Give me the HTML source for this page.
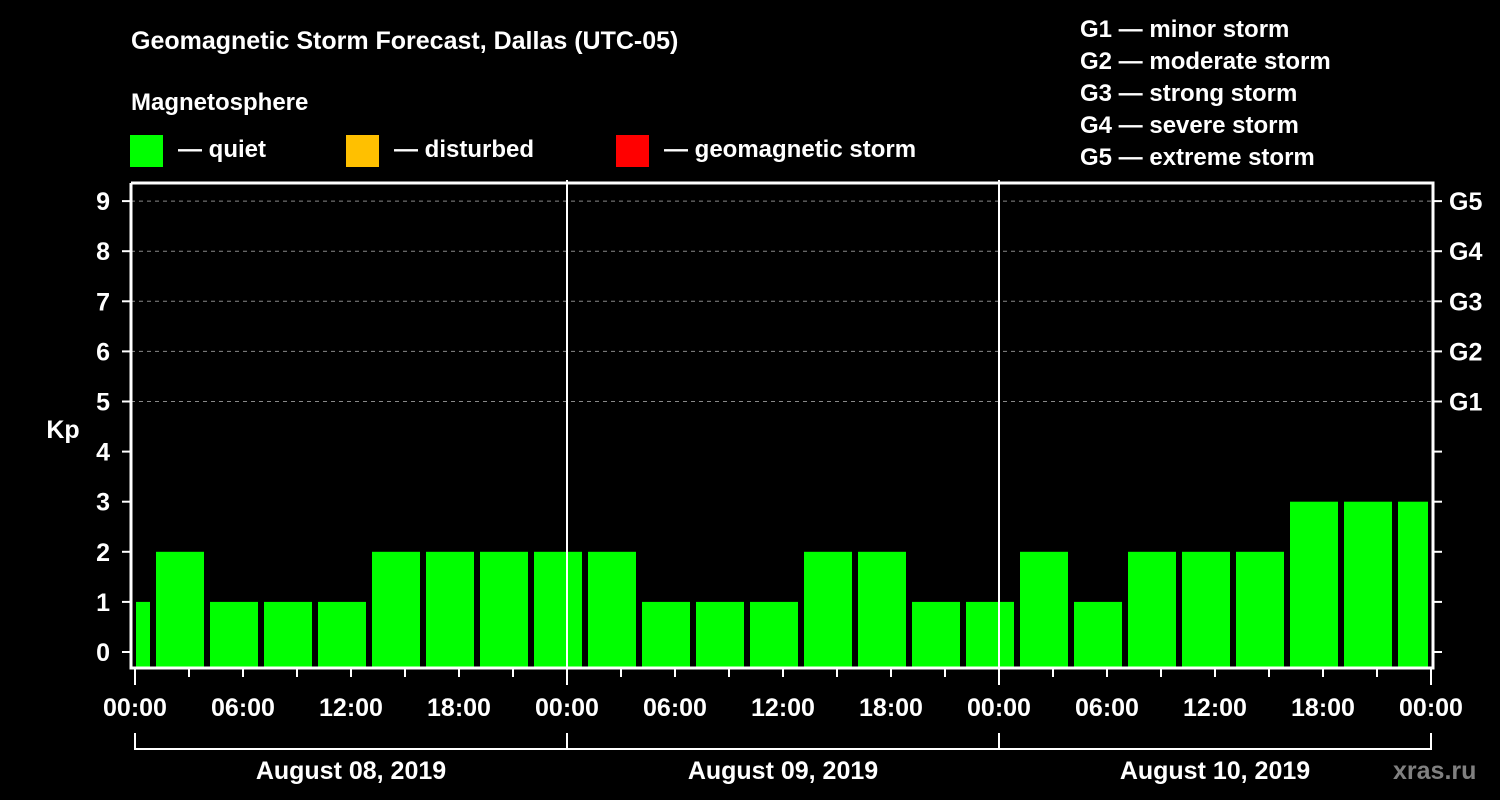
<!DOCTYPE html>
<html><head><meta charset="utf-8"><style>
body{margin:0;background:#000;width:1500px;height:800px;overflow:hidden}
svg{display:block}
text{font-family:"Liberation Sans",Arial,sans-serif;font-weight:bold;fill:#fff}
</style></head><body>
<svg id="chart" width="1500" height="800" xmlns="http://www.w3.org/2000/svg">
<text x="131" y="49" font-size="25">Geomagnetic Storm Forecast, Dallas (UTC-05)</text>
<text x="131" y="110" font-size="24">Magnetosphere</text>
<g><rect x="130" y="135" width="33" height="32" fill="#00ff00"/><text x="178" y="157" font-size="24">— quiet</text></g>
<g><rect x="346" y="135" width="33" height="32" fill="#ffc000"/><text x="394" y="157" font-size="24">— disturbed</text></g>
<g><rect x="616" y="135" width="33" height="32" fill="#ff0000"/><text x="664" y="157" font-size="24">— geomagnetic storm</text></g>
<g font-size="24">
<text x="1080" y="37">G1 — minor storm</text>
<text x="1080" y="69">G2 — moderate storm</text>
<text x="1080" y="101">G3 — strong storm</text>
<text x="1080" y="133">G4 — severe storm</text>
<text x="1080" y="165">G5 — extreme storm</text>
</g>
<g id="grid"></g><g id="bars"></g><g id="axes"></g>
<text x="63" y="438" font-size="25" text-anchor="middle">Kp</text>
<text x="1393" y="779" font-size="25" style="fill:#808080">xras.ru</text>
</svg>
<script>
const kpValues=[1,2,1,1,1,2,2,2,2,2,1,1,1,2,2,1,1,2,1,2,2,2,3,3,3];
const timeLabels=["00:00","06:00","12:00","18:00"];
const dayLabels=["August 08, 2019","August 09, 2019","August 10, 2019"];
const gLabels=["G1","G2","G3","G4","G5"];
const NS="http://www.w3.org/2000/svg";
const X0=135,PXH=18,L=131,R=1433,T=183,B=668;
const xs=h=>X0+h*PXH;
const ys=v=>652-v*50.1;
function mk(tag,attrs,parent){const e=document.createElementNS(NS,tag);for(const k in attrs)e.setAttribute(k,attrs[k]);document.getElementById(parent).appendChild(e);return e;}
// grid
for(let v=5;v<=9;v++){const e=mk('line',{x1:L,x2:R,y1:ys(v),y2:ys(v),stroke:'#888','stroke-dasharray':'4,4','stroke-width':1},'grid');

}
// bars: first bar partial (local 22:00-01:00), then 3-hour intervals starting at 01:00
kpValues.forEach((v,i)=>{const h0=-2+3*i,h1=h0+3;let x0=Math.max(xs(h0)+3,X0+1),x1=Math.min(xs(h1)-3,R-5);
const c=v>=5?'#ff0000':(v>=4?'#ffc000':'#00ff00');
const e=mk('rect',{x:x0,y:ys(v),width:x1-x0,height:B-ys(v),fill:c},'bars');

});
// frame
const f=mk('path',{d:`M${L},${T}V${B}H${R}V${T}H${L}`,fill:'none',stroke:'#fff','stroke-width':3},'axes');


for(let d=1;d<3;d++){const e=mk('line',{x1:xs(24*d),x2:xs(24*d),y1:T-3,y2:B,stroke:'#fff','stroke-width':2},'axes');

}
// y ticks
for(let v=0;v<=9;v++){mk('line',{x1:122,x2:L,y1:ys(v),y2:ys(v),stroke:'#fff','stroke-width':2},'axes');
mk('line',{x1:R,x2:1442,y1:ys(v),y2:ys(v),stroke:'#fff','stroke-width':2},'axes');
const t=mk('text',{x:110,y:ys(v)+9,'font-size':25,'text-anchor':'end'},'axes');t.textContent=v;

}
gLabels.forEach((g,i)=>{const t=mk('text',{x:1449,y:ys(5+i)+9,'font-size':25},'axes');t.textContent=g;

});
// x ticks
for(let h=0;h<=72;h+=3){const major=h%6===0;mk('line',{x1:xs(h),x2:xs(h),y1:B,y2:major?(h%24===0?685:677):677,stroke:'#fff','stroke-width':2},'axes');
if(major){const t=mk('text',{x:xs(h),y:716,'font-size':25,'text-anchor':'middle'},'axes');t.textContent=timeLabels[(h%24)/6];

}}
mk('path',{d:`M${xs(0)},733V749H${xs(72)}V733M${xs(24)},733V749M${xs(48)},733V749`,fill:'none',stroke:'#fff','stroke-width':2},'axes');
dayLabels.forEach((d,i)=>{const t=mk('text',{x:xs(24*i+12),y:779,'font-size':25,'text-anchor':'middle'},'axes');t.textContent=d;

});
</script>
</body></html>
